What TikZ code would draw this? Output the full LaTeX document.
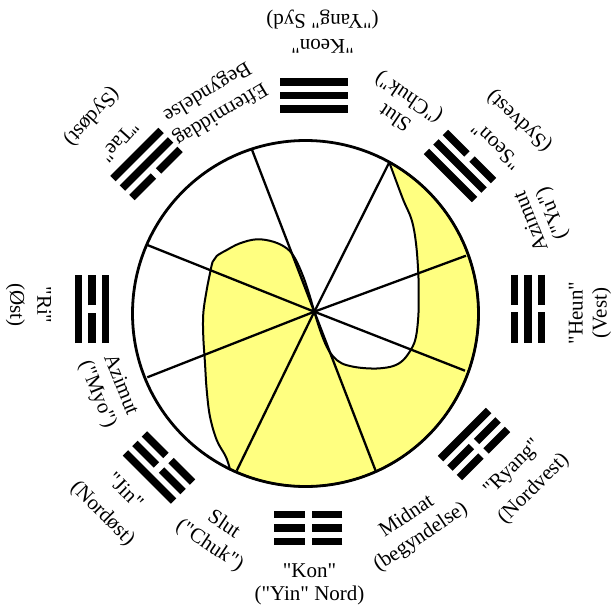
\documentclass[tikz,border=0pt]{standalone}
\usepackage{fontspec}
\setmainfont{Liberation Serif}[Ligatures=TeXOff]
\definecolor{yel}{RGB}{255,255,128}
\tikzset{
  lbl/.style={font=\fontsize{21}{23}\selectfont, inner sep=0pt, align=center},
  barline/.style={line width=7.7pt},
  spoke/.style={line width=2.3pt},
}
\newcommand\trbar[2]{\ifnum#2=1 \draw[barline] (-34pt,#1pt) -- (34pt,#1pt);\else \draw[barline] (-34pt,#1pt) -- (-3.7pt,#1pt) (3.7pt,#1pt) -- (34pt,#1pt);\fi}
\newcommand\trigram[6]{%
  \begin{scope}[shift={(#1,#2)}, rotate=#3]
    \trbar{13.4}{#4}\trbar{0}{#5}\trbar{-13.4}{#6}
  \end{scope}}
\begin{document}
\begin{tikzpicture}[x=1pt,y=-1pt]
\useasboundingbox (0,0) rectangle (614,611);
\coordinate (C) at (305.5,313.5);
\coordinate (H) at (314.3,311.7);
% yellow blob
\filldraw[fill=yel, draw=black, line width=2pt, line join=round]
  plot[smooth, tension=0.6] coordinates {(389.3,162.3) (393.3,173.3) (403.3,200) (411.7,220) (416,243.3) (418.3,273.3) (418.7,296.7) (418.3,316.7) (416,336.7) (411.7,348.3) (403.3,360) (393.3,366) (380,368.3) (366.7,368.3) (353.3,366.7) (341.7,363.3) (333.3,356.7) (326.7,346.7) (320,330) (314.3,311.7) (310,296.7) (303.3,276.7) (295,258.3) (286.7,248.3) (273.3,241.7) (256.7,239.3) (240,243.3) (226.7,250) (216.7,256) (212.7,261.7) (210,273.3) (206.7,290) (203.3,313.3) (203.3,336.7) (205,363.3) (206.7,390) (210,416.7) (216.7,440) (225,455) (228.3,463.3) (229.9,469.1)}
  arc[start angle=115.9, end angle=-61, radius=173] -- cycle;
% spokes
\coordinate (e1) at (251.7,149);
\coordinate (e2) at (389.3,162.3);
\coordinate (e3) at (466,255.7);
\coordinate (e4) at (465,370.7);
\coordinate (e5) at (376,471.7);
\coordinate (e6) at (236.7,470.7);
\coordinate (e7) at (147.3,377.3);
\coordinate (e8) at (147.3,245);
\foreach \e in {e1,e2,e3,e4,e5,e6,e7,e8} \draw[spoke] (H) -- (\e);
\draw[line width=2.8pt] (C) circle[radius=173];
% trigrams: x, y, rotation, outer, middle, inner
\trigram{314}{95.5}{0}{1}{1}{1}
\trigram{460}{166}{-45}{0}{1}{1}
\trigram{528}{308.5}{-90}{0}{1}{0}
\trigram{474}{444}{-135}{0}{0}{1}
\trigram{308.3}{528}{180}{0}{0}{0}
\trigram{159}{467.5}{135}{1}{0}{0}
\trigram{92}{309}{90}{1}{0}{1}
\trigram{146.5}{164}{45}{1}{1}{0}
% labels
\node[lbl, rotate=180] (keon) at (322.5,31.5) {"Keon"\\[2pt]("Yang" Syd)};
\node[lbl] (kon) at (309.5,584.5) {"Kon"\\("Yin" Nord)};
\node[lbl, rotate=-90] (ri) at (28.5,305) {"Ri"\\[4pt](Øst)};
\node[lbl, rotate=90] (heun) at (590,313) {"Heun"\\[1pt](Vest)};
\node[lbl, rotate=228] (tae) at (104.5,128) {"Tae"\\[13pt](Sydøst)};
\node[lbl, rotate=137] (seon) at (508.5,132.5) {"Seon"\\[10pt](Sydvest)};
\node[lbl, rotate=-45] (jin) at (113,503) {"Jin"\\[8pt](Nordøst)};
\node[lbl, rotate=45] (ryang) at (523.5,478.5) {"Ryang"\\[7pt](Nordvest)};
\node[lbl, rotate=211] (eft) at (213.5,102.5) {Eftermiddag\\[3pt]Begyndelse};
\node[lbl, rotate=146] (slutA) at (402.4,106.7) {Slut\\[1pt]("Chuk")};
\node[lbl, rotate=112] (azY) at (542.5,217) {Azimut\\("Yu")};
\node[lbl, rotate=-68] (azM) at (108.5,390) {Azimut\\[2pt]("Myo")};
\node[lbl, rotate=-34] (slutB) at (216.5,535.5) {Slut\\[2pt]("Chuk")};
\node[lbl, rotate=34] (mid) at (414,527) {Midnat\\[2pt](begyndelse)};
\end{tikzpicture}
\end{document}
